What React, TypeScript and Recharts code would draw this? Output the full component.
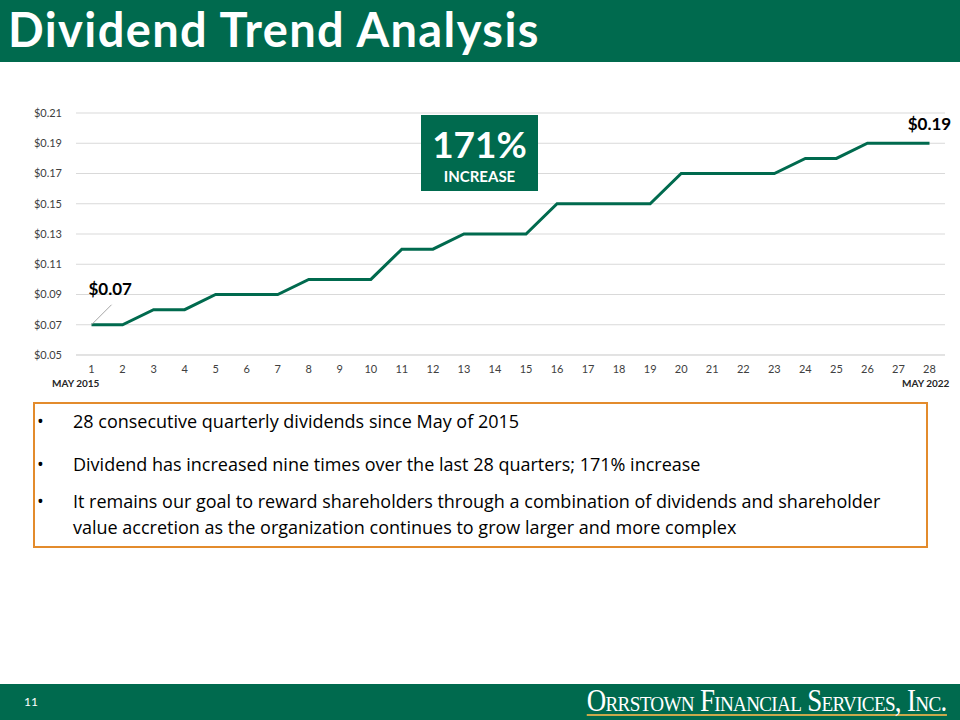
import React from "react";
import { LineChart, Line, XAxis, YAxis, CartesianGrid, LabelList } from "recharts";

const quarters = [
  "1", "2", "3", "4", "5", "6", "7", "8", "9", "10", "11", "12", "13", "14",
  "15", "16", "17", "18", "19", "20", "21", "22", "23", "24", "25", "26", "27", "28",
];
const dividends = [
  0.07, 0.07, 0.08, 0.08, 0.09, 0.09, 0.09, 0.1, 0.1, 0.1, 0.12, 0.12, 0.13, 0.13,
  0.13, 0.15, 0.15, 0.15, 0.15, 0.17, 0.17, 0.17, 0.17, 0.18, 0.18, 0.19, 0.19, 0.19,
];
const yTicks = [0.05, 0.07, 0.09, 0.11, 0.13, 0.15, 0.17, 0.19, 0.21];
const bullets = [
  "28 consecutive quarterly dividends since May of 2015",
  "Dividend has increased nine times over the last 28 quarters; 171% increase",
  "It remains our goal to reward shareholders through a combination of dividends and shareholder value accretion as the organization continues to grow larger and more complex",
];
const bulletGaps = [4, 17, 11];

const data = quarters.map((q, i) => ({ q, value: dividends[i] }));

const GREEN = "#006A4E";
const FONT = "Lato, 'Open Sans', sans-serif";

/** 첫 점과 마지막 점에만 금액 라벨 */
function endLabel(props: unknown) {
  const p = props as { x: number; y: number; index: number; value: number };
  const txt = "$" + p.value.toFixed(2);
  if (p.index === 0) {
    return (
      <g>
        <line x1={p.x} y1={p.y} x2={p.x + 20} y2={p.y - 20} stroke="#A6A6A6" strokeWidth={1} />
        <text x={p.x - 3} y={p.y - 30} fontSize={17} fontWeight={700} fill="#000" fontFamily={FONT}>
          {txt}
        </text>
      </g>
    );
  }
  if (p.index === dividends.length - 1) {
    return (
      <text x={p.x} y={p.y - 13} fontSize={17} fontWeight={700} fill="#000" textAnchor="middle" fontFamily={FONT}>
        {txt}
      </text>
    );
  }
  return null;
}

export default function App() {
  return (
    <div
      style={{
        position: "absolute",
        left: 0,
        top: 0,
        width: 960,
        height: 720,
        background: "#fff",
        overflow: "hidden",
        fontFamily: FONT,
      }}
    >
      <div
        style={{
          position: "absolute",
          left: 0,
          top: 0,
          width: 960,
          height: 62,
          background: GREEN,
        }}
      >
        <div
          style={{
            position: "absolute",
            left: 8,
            top: 0,
            color: "#fff",
            fontSize: 47,
            fontWeight: 700,
            lineHeight: "58px",
            letterSpacing: 1.4,
            whiteSpace: "nowrap",
          }}
        >
          Dividend Trend Analysis
        </div>
      </div>

      <div style={{ position: "absolute", left: 0, top: 100 }}>
        <LineChart width={960} height={290} data={data} margin={{ top: 13, right: 15, bottom: 0, left: 16 }}>
          <CartesianGrid vertical={false} stroke="#D9D9D9" />
          <XAxis
            dataKey="q"
            axisLine={{ stroke: "#D9D9D9" }}
            tickLine={false}
            tickSize={0}
            tickMargin={10}
            padding={{ left: 15.5, right: 15.5 }}
            interval={0}
            tick={{ fontSize: 11, fill: "#404040" }}
            height={35}
          />
          <YAxis
            domain={[0.05, 0.21]}
            ticks={yTicks}
            axisLine={false}
            tickLine={false}
            tickSize={0}
            tickMargin={14}
            width={60}
            tickFormatter={(v: number) => "$" + v.toFixed(2)}
            tick={{ fontSize: 11, fill: "#404040" }}
          />
          <Line
            type="linear"
            dataKey="value"
            stroke={GREEN}
            strokeWidth={3}
            dot={false}
            isAnimationActive={false}
          >
            <LabelList dataKey="value" content={endLabel} />
          </Line>
        </LineChart>
      </div>

      <div style={{ position: "absolute", left: 52, top: 377, fontSize: 10, fontWeight: 700, color: "#262626" }}>
        MAY 2015
      </div>
      <div style={{ position: "absolute", left: 902, top: 377, fontSize: 10, fontWeight: 700, color: "#262626" }}>
        MAY 2022
      </div>

      <div
        style={{
          position: "absolute",
          left: 421,
          top: 115,
          width: 117,
          height: 76,
          background: GREEN,
          color: "#fff",
          textAlign: "center",
          fontWeight: 700,
        }}
      >
        <div style={{ fontSize: 37, lineHeight: "46px", marginTop: 6 }}>171%</div>
        <div style={{ fontSize: 15, lineHeight: "18px" }}>INCREASE</div>
      </div>

      <div
        style={{
          position: "absolute",
          left: 33,
          top: 402,
          width: 891,
          height: 142,
          border: "2px solid #E38B2C",
          color: "#000",
          fontSize: 18,
          fontFamily: "'Open Sans', sans-serif",
        }}
      >
        {bullets.map((b, i) => (
          <div
            key={i}
            style={{
              position: "relative",
              paddingLeft: 38,
              paddingRight: 18,
              marginTop: bulletGaps[i],
              lineHeight: "26px",
            }}
          >
            <span style={{ position: "absolute", left: 2, fontSize: 18 }}>•</span>
            {b}
          </div>
        ))}
      </div>

      <div
        style={{
          position: "absolute",
          left: 0,
          top: 684,
          width: 960,
          height: 36,
          background: GREEN,
        }}
      >
        <div style={{ position: "absolute", left: 24, top: 10, color: "#fff", fontSize: 12 }}>11</div>
        <div
          style={{
            position: "absolute",
            right: 14,
            top: 3,
            color: "#fff",
            fontFamily: "'Liberation Serif', 'DejaVu Serif', serif",
            fontVariant: "small-caps",
            fontSize: 31,
            letterSpacing: -0.8,
            lineHeight: "27px",
            borderBottom: "2px solid #C9A94B",
            transform: "scaleX(0.87)",
            transformOrigin: "right center",
            whiteSpace: "nowrap",
          }}
        >
          Orrstown Financial Services, Inc.
        </div>
      </div>
    </div>
  );
}
